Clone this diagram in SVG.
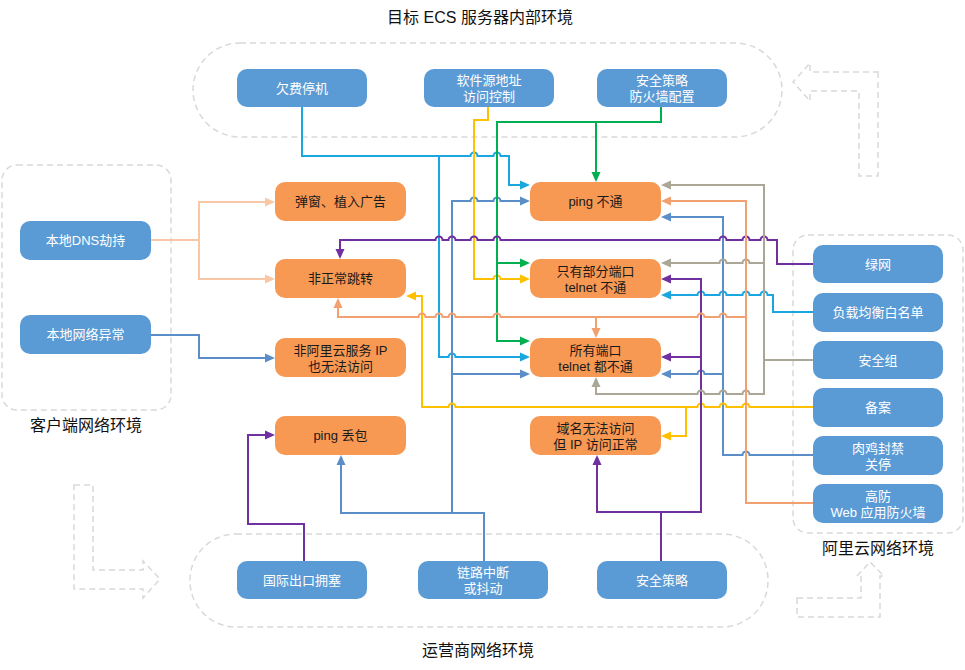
<svg xmlns="http://www.w3.org/2000/svg" width="965" height="670" viewBox="0 0 965 670">
<style>
text{font-family:"Liberation Sans","Noto Sans CJK SC",sans-serif;text-anchor:middle;dominant-baseline:central}
.lbl{font-size:16px;fill:#111}
.bn rect{fill:#5b9bd5}
.bn text{fill:#fff;font-size:13px}
.on rect{fill:#f79853}
.on text{fill:#1a1a1a;font-size:13px}
.cont{fill:none;stroke:#d9d9d9;stroke-width:1.5;stroke-dasharray:6 4}
#connectors path{fill:none;stroke-width:2}
.pe{stroke:#f8c8a6}.st{stroke:#5b8ec8}.cy{stroke:#1aa7e0}.ye{stroke:#ffc000}.gn{stroke:#00b050}.pu{stroke:#7030a0}.gr{stroke:#aba797}.sa{stroke:#f2a070}
</style>
<defs>
<marker id="m-pe" viewBox="0 0 10 10" refX="7" refY="5" markerWidth="10" markerHeight="10" markerUnits="userSpaceOnUse" orient="auto"><path d="M0,0.5L10,5L0,9.5z" fill="#f8c8a6"/></marker>
<marker id="m-st" viewBox="0 0 10 10" refX="7" refY="5" markerWidth="10" markerHeight="10" markerUnits="userSpaceOnUse" orient="auto"><path d="M0,0.5L10,5L0,9.5z" fill="#5b8ec8"/></marker>
<marker id="m-cy" viewBox="0 0 10 10" refX="7" refY="5" markerWidth="10" markerHeight="10" markerUnits="userSpaceOnUse" orient="auto"><path d="M0,0.5L10,5L0,9.5z" fill="#1aa7e0"/></marker>
<marker id="m-ye" viewBox="0 0 10 10" refX="7" refY="5" markerWidth="10" markerHeight="10" markerUnits="userSpaceOnUse" orient="auto"><path d="M0,0.5L10,5L0,9.5z" fill="#ffc000"/></marker>
<marker id="m-gn" viewBox="0 0 10 10" refX="7" refY="5" markerWidth="10" markerHeight="10" markerUnits="userSpaceOnUse" orient="auto"><path d="M0,0.5L10,5L0,9.5z" fill="#00b050"/></marker>
<marker id="m-pu" viewBox="0 0 10 10" refX="7" refY="5" markerWidth="10" markerHeight="10" markerUnits="userSpaceOnUse" orient="auto"><path d="M0,0.5L10,5L0,9.5z" fill="#7030a0"/></marker>
<marker id="m-gr" viewBox="0 0 10 10" refX="7" refY="5" markerWidth="10" markerHeight="10" markerUnits="userSpaceOnUse" orient="auto"><path d="M0,0.5L10,5L0,9.5z" fill="#aba797"/></marker>
<marker id="m-sa" viewBox="0 0 10 10" refX="7" refY="5" markerWidth="10" markerHeight="10" markerUnits="userSpaceOnUse" orient="auto"><path d="M0,0.5L10,5L0,9.5z" fill="#f2a070"/></marker>
</defs>
<rect width="965" height="670" fill="#fff"/>

<g id="containers">
<rect class="cont" x="193" y="43" width="589" height="94" rx="47"/>
<rect class="cont" x="190" y="534" width="578" height="93" rx="46"/>
<rect class="cont" x="2" y="165" width="169" height="245" rx="15"/>
<rect class="cont" x="793" y="235" width="170" height="298" rx="15"/>
<path class="cont" d="M74,485 H93 V570 H143 V561 L160,579 L143,598 V589 H74 Z"/>
<path class="cont" d="M878,72 V176 H859 V91 H810 V101 L793,82 L810,63 V72 Z"/>
<path class="cont" d="M797,598 H861 V576 H857 L870,562 L884,576 H880 V617 H797 Z"/>
</g>

<g id="labels">
<text class="lbl" x="480" y="17">目标 ECS 服务器内部环境</text>
<text class="lbl" x="86" y="425">客户端网络环境</text>
<text class="lbl" x="878" y="548">阿里云网络环境</text>
<text class="lbl" x="478" y="650">运营商网络环境</text>
</g>

<g id="connectors">
<path class="pe" marker-end="url(#m-pe)" d="M151,240 H199 V202 H272"/>
<path class="pe" marker-end="url(#m-pe)" d="M199,240 V279 H272"/>
<path class="st" marker-end="url(#m-st)" d="M151,335 H199 V358 H272"/>

<path class="cy" marker-end="url(#m-cy)" d="M302,107 V156 H470.5 a3.5,3.5 0 0 1 7,0 H493.5 a3.5,3.5 0 0 1 7,0 H509 V185 H527"/>
<path class="cy" marker-end="url(#m-cy)" d="M439,156 V357 H448.5 a3.5,3.5 0 0 1 7,0 H527"/>
<path class="cy" marker-end="url(#m-cy)" d="M813,312 H773 V295 H767.5 a3.5,3.5 0 0 0 -7,0 H749.5 a3.5,3.5 0 0 0 -7,0 H726.5 a3.5,3.5 0 0 0 -7,0 H704.5 a3.5,3.5 0 0 0 -7,0 H664"/>

<path class="st" marker-end="url(#m-st)" d="M484,561 V513 H341 V458"/>
<path class="st" marker-end="url(#m-st)" d="M452,513 V201 H470.5 a3.5,3.5 0 0 1 7,0 H493.5 a3.5,3.5 0 0 1 7,0 H527"/>
<path class="st" marker-end="url(#m-st)" d="M452,374 H527"/>
<path class="st" marker-end="url(#m-st)" d="M813,455 H749.5 a3.5,3.5 0 0 0 -7,0 H723 V217 H664"/>
<path class="st" marker-end="url(#m-st)" d="M723,374 H704.5 a3.5,3.5 0 0 0 -7,0 H664"/>

<path class="ye" marker-end="url(#m-ye)" d="M488,107 V120 H474 V279 H493.5 a3.5,3.5 0 0 1 7,0 H527"/>
<path class="ye" marker-end="url(#m-ye)" d="M813,407 H749.5 a3.5,3.5 0 0 0 -7,0 H726.5 a3.5,3.5 0 0 0 -7,0 H704.5 a3.5,3.5 0 0 0 -7,0 H455.5 a3.5,3.5 0 0 0 -7,0 H422 V296 H409"/>
<path class="ye" marker-end="url(#m-ye)" d="M686,407 V436 H664"/>

<path class="gn" marker-end="url(#m-gn)" d="M661,107 V122 H497 V341 H527"/>
<path class="gn" marker-end="url(#m-gn)" d="M596,122 V179"/>
<path class="gn" marker-end="url(#m-gn)" d="M497,263 H527"/>

<path class="pu" marker-end="url(#m-pu)" d="M813,264 H777 V240 H767.5 a3.5,3.5 0 0 0 -7,0 H749.5 a3.5,3.5 0 0 0 -7,0 H726.5 a3.5,3.5 0 0 0 -7,0 H500.5 a3.5,3.5 0 0 0 -7,0 H477.5 a3.5,3.5 0 0 0 -7,0 H455.5 a3.5,3.5 0 0 0 -7,0 H442.5 a3.5,3.5 0 0 0 -7,0 H340 V256"/>
<path class="pu" marker-end="url(#m-pu)" d="M661,561 V512 H597 V458"/>
<path class="pu" marker-end="url(#m-pu)" d="M661,512 H701 V279 H664"/>
<path class="pu" marker-end="url(#m-pu)" d="M701,357 H664"/>
<path class="pu" marker-end="url(#m-pu)" d="M304,561 V524 H248 V435 H272"/>

<path class="gr" marker-end="url(#m-gr)" d="M813,360 H764 V185 H664"/>
<path class="gr" marker-end="url(#m-gr)" d="M764,263 H749.5 a3.5,3.5 0 0 0 -7,0 H726.5 a3.5,3.5 0 0 0 -7,0 H664"/>
<path class="gr" marker-end="url(#m-gr)" d="M764,360 V394 H749.5 a3.5,3.5 0 0 0 -7,0 H726.5 a3.5,3.5 0 0 0 -7,0 H704.5 a3.5,3.5 0 0 0 -7,0 H596 V380"/>

<path class="sa" marker-end="url(#m-sa)" d="M813,503 H746 V201 H664"/>
<path class="sa" marker-end="url(#m-sa)" d="M746,317 H726.5 a3.5,3.5 0 0 0 -7,0 H704.5 a3.5,3.5 0 0 0 -7,0 H500.5 a3.5,3.5 0 0 0 -7,0 H455.5 a3.5,3.5 0 0 0 -7,0 H442.5 a3.5,3.5 0 0 0 -7,0 H425.5 a3.5,3.5 0 0 0 -7,0 H338 V301"/>
<path class="sa" marker-end="url(#m-sa)" d="M596,317 V335"/>
</g>

<g id="n-qianfei" class="bn"><rect x="237" y="69" width="130" height="38" rx="10"/><text x="302" y="88">欠费停机</text></g>
<g id="n-ruanjian" class="bn"><rect x="424" y="69" width="130" height="38" rx="10"/><text><tspan x="489" y="80">软件源地址</tspan><tspan x="489" y="96">访问控制</tspan></text></g>
<g id="n-fanghuoqiang" class="bn"><rect x="597" y="69" width="130" height="38" rx="10"/><text><tspan x="662" y="80">安全策略</tspan><tspan x="662" y="96">防火墙配置</tspan></text></g>

<g id="n-dns" class="bn"><rect x="20" y="221" width="131" height="39" rx="10"/><text x="85.5" y="240.5">本地DNS劫持</text></g>
<g id="n-localnet" class="bn"><rect x="20" y="315" width="131" height="39" rx="10"/><text x="85.5" y="334.5">本地网络异常</text></g>

<g id="n-popup" class="on"><rect x="275" y="182" width="131" height="39" rx="10"/><text x="340.5" y="201.5">弹窗、植入广告</text></g>
<g id="n-redirect" class="on"><rect x="275" y="259" width="131" height="39" rx="10"/><text x="340.5" y="278.5">非正常跳转</text></g>
<g id="n-nonaliyun" class="on"><rect x="275" y="338" width="131" height="39" rx="10"/><text><tspan x="340.5" y="349.5">非阿里云服务 IP</tspan><tspan x="340.5" y="365.5">也无法访问</tspan></text></g>
<g id="n-pingloss" class="on"><rect x="275" y="416" width="131" height="39" rx="10"/><text x="340.5" y="435.5">ping 丢包</text></g>

<g id="n-pingfail" class="on"><rect x="530" y="182" width="131" height="39" rx="10"/><text x="595.5" y="201.5">ping 不通</text></g>
<g id="n-someports" class="on"><rect x="530" y="259" width="131" height="39" rx="10"/><text><tspan x="595.5" y="270.5">只有部分端口</tspan><tspan x="595.5" y="286.5">telnet 不通</tspan></text></g>
<g id="n-allports" class="on"><rect x="530" y="338" width="131" height="39" rx="10"/><text><tspan x="595.5" y="349.5">所有端口</tspan><tspan x="595.5" y="365.5">telnet 都不通</tspan></text></g>
<g id="n-domain" class="on"><rect x="530" y="416" width="131" height="39" rx="10"/><text><tspan x="595.5" y="427.5">域名无法访问</tspan><tspan x="595.5" y="443.5">但 IP 访问正常</tspan></text></g>

<g id="n-lvwang" class="bn"><rect x="813" y="245" width="130" height="38" rx="10"/><text x="878" y="264">绿网</text></g>
<g id="n-slb" class="bn"><rect x="813" y="293" width="130" height="39" rx="10"/><text x="878" y="312.5">负载均衡白名单</text></g>
<g id="n-secgroup" class="bn"><rect x="813" y="341" width="130" height="38" rx="10"/><text x="878" y="360">安全组</text></g>
<g id="n-beian" class="bn"><rect x="813" y="388" width="130" height="39" rx="10"/><text x="878" y="407.5">备案</text></g>
<g id="n-roujiji" class="bn"><rect x="813" y="436" width="130" height="39" rx="10"/><text><tspan x="878" y="447.5">肉鸡封禁</tspan><tspan x="878" y="463.5">关停</tspan></text></g>
<g id="n-gaofang" class="bn"><rect x="813" y="484" width="130" height="39" rx="10"/><text><tspan x="878" y="495.5">高防</tspan><tspan x="878" y="511.5">Web 应用防火墙</tspan></text></g>

<g id="n-intl" class="bn"><rect x="237" y="561" width="130" height="38" rx="10"/><text x="302" y="580">国际出口拥塞</text></g>
<g id="n-link" class="bn"><rect x="418" y="561" width="130" height="38" rx="10"/><text><tspan x="483" y="572">链路中断</tspan><tspan x="483" y="588">或抖动</tspan></text></g>
<g id="n-ispsec" class="bn"><rect x="597" y="561" width="130" height="38" rx="10"/><text x="662" y="580">安全策略</text></g>
</svg>
